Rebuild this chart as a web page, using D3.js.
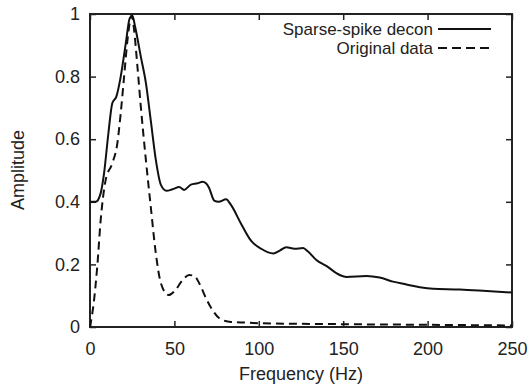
<!DOCTYPE html>
<html>
<head>
<meta charset="utf-8">
<script src="https://cdn.jsdelivr.net/npm/d3@7"></script>
<style>
  body { margin: 0; background: #fff; }
  text { font-family: "Liberation Sans", Arial, sans-serif; fill: #222; }
</style>
</head>
<body>
<div id="chart"></div>
<script>
// datos
const decFreq = [0, 3.4, 6.3, 8.3, 10.9, 13.2, 15.6, 18.2, 21.2, 23.5, 25.1, 26.7, 30.1, 33.1, 36, 39, 42, 45.3, 48.9, 52.9, 55.8, 59.8, 63.7, 66.7, 68.7, 70.5, 73.6, 76.2, 80.6, 83.5, 89.4, 95.5, 101.4, 108.7, 112.4, 116.3, 121.2, 126.2, 129.2, 134.1, 140, 148, 151.9, 163.8, 171.6, 179.5, 187.5, 195.4, 203.3, 219.2, 235, 250];
const decAmp = [0.40, 0.40, 0.427, 0.49, 0.619, 0.715, 0.736, 0.80, 0.906, 0.986, 0.995, 0.96, 0.864, 0.78, 0.66, 0.534, 0.454, 0.435, 0.44, 0.447, 0.438, 0.455, 0.459, 0.464, 0.459, 0.445, 0.404, 0.40, 0.408, 0.39, 0.331, 0.275, 0.25, 0.235, 0.244, 0.255, 0.25, 0.252, 0.241, 0.214, 0.195, 0.166, 0.160, 0.163, 0.158, 0.145, 0.136, 0.127, 0.122, 0.12, 0.115, 0.11];

const origFreq = [0, 2.4, 4.4, 6.3, 9.3, 13.2, 16.2, 18.2, 20.2, 22.2, 23.8, 24.8, 26.1, 28.1, 30.1, 33.1, 36, 39, 42, 46.5, 50.9, 54.8, 58.8, 61.8, 64.7, 68.7, 72.6, 76.6, 82.5, 92, 100, 150, 200, 250];
const origAmp = [0, 0.086, 0.20, 0.34, 0.47, 0.523, 0.587, 0.683, 0.80, 0.917, 0.98, 0.995, 0.95, 0.832, 0.704, 0.534, 0.384, 0.235, 0.14, 0.102, 0.12, 0.15, 0.166, 0.163, 0.14, 0.092, 0.054, 0.028, 0.017, 0.014, 0.012, 0.009, 0.007, 0.005];

const xTicks = [0, 50, 100, 150, 200, 250];
const yTicks = [0, 0.2, 0.4, 0.6, 0.8, 1];
const seriesNames = ['Sparse-spike decon', 'Original data'];

const width = 531, height = 389;
const margin = { top: 14, right: 19, bottom: 62, left: 90 };
const w = width - margin.left - margin.right;
const h = height - margin.top - margin.bottom;

const svg = d3.select('#chart').append('svg')
    .attr('width', width)
    .attr('height', height);

const g = svg.append('g').attr('transform', `translate(${margin.left},${margin.top})`);

const x = d3.scaleLinear().domain([0, 250]).range([0, w]);
const y = d3.scaleLinear().domain([0, 1]).range([h, 0]);

// ejes con ticks hacia dentro
const tickLen = 6;
const xAxis = g.append('g').attr('transform', `translate(0,${h})`)
    .call(d3.axisBottom(x).tickValues(xTicks).tickSize(-tickLen).tickPadding(15).tickFormat(d3.format('d')));
const xAxisTop = g.append('g')
    .call(d3.axisTop(x).tickValues(xTicks).tickSize(-tickLen).tickFormat(''));
const yAxis = g.append('g')
    .call(d3.axisLeft(y).tickValues(yTicks).tickSize(-tickLen).tickPadding(10).tickFormat(d => d === 0 || d === 1 ? d : d3.format('.1f')(d)));
const yAxisRight = g.append('g').attr('transform', `translate(${w},0)`)
    .call(d3.axisRight(y).tickValues(yTicks).tickSize(-tickLen).tickFormat(''));

[xAxis, xAxisTop, yAxis, yAxisRight].forEach(a => {
    a.select('.domain').remove();
    a.selectAll('line').attr('stroke', '#222').attr('stroke-width', 1.5);
    a.selectAll('text').style('font-size', '18px').attr('fill', '#222');
});
xAxis.selectAll('text').attr('dy', '0.71em');

// marco
g.append('rect')
    .attr('width', w).attr('height', h)
    .attr('fill', 'none')
    .attr('stroke', '#222')
    .attr('stroke-width', 2);

// curvas
const line = d3.line()
    .x(d => x(d[0]))
    .y(d => y(d[1]))
    .curve(d3.curveMonotoneX);

g.append('path')
    .datum(decFreq.map((f, i) => [f, decAmp[i]]))
    .attr('d', line)
    .attr('fill', 'none')
    .attr('stroke', '#111')
    .attr('stroke-width', 2);

g.append('path')
    .datum(origFreq.map((f, i) => [f, origAmp[i]]))
    .attr('d', line)
    .attr('fill', 'none')
    .attr('stroke', '#111')
    .attr('stroke-width', 2)
    .attr('stroke-dasharray', '8,5');

// leyenda
const legend = svg.append('g');
seriesNames.forEach((name, i) => {
    const ly = 29 + i * 19;
    legend.append('text')
        .attr('x', 433).attr('y', ly)
        .attr('dy', '0.35em')
        .attr('text-anchor', 'end')
        .style('font-size', '17px')
        .text(name);
    legend.append('line')
        .attr('x1', 438).attr('x2', 491)
        .attr('y1', ly).attr('y2', ly)
        .attr('stroke', '#111')
        .attr('stroke-width', 2)
        .attr('stroke-dasharray', i === 1 ? '9,5' : null);
});

// titulos de ejes
svg.append('text')
    .attr('x', margin.left + w / 2).attr('y', 380)
    .attr('text-anchor', 'middle')
    .style('font-size', '18px')
    .text('Frequency (Hz)');

svg.append('text')
    .attr('transform', 'translate(24,170) rotate(-90)')
    .attr('text-anchor', 'middle')
    .style('font-size', '18px')
    .text('Amplitude');
</script>
</body>
</html>
